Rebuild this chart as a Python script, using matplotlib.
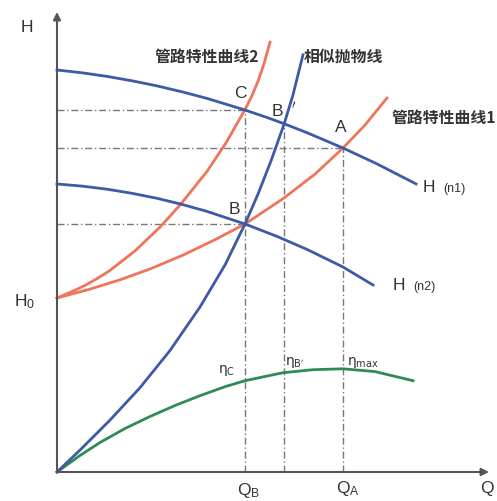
import matplotlib.pyplot as plt

plt.rcParams['font.family'] = ['Liberation Sans', 'Noto Sans CJK SC', 'DejaVu Sans']
plt.rcParams['mathtext.fontset'] = 'dejavusans'

# 泵特性曲线 H(n1)
q_n1 = [0, 2.5, 5.0, 7.5, 10.0, 12.5, 15.0, 18.8, 21.0, 22.7, 25.0, 28.6, 32.0, 35.9]
h_n1 = [40.2, 39.92, 39.56, 39.12, 38.61, 38.02, 37.36, 36.2, 35.45, 34.83, 33.93, 32.4, 30.81, 28.81]

# 泵特性曲线 H(n2)
q_n2 = [0, 2.5, 5.0, 7.5, 10.0, 12.5, 15.0, 18.8, 22.0, 25.0, 28.6, 31.6]
h_n2 = [28.8, 28.59, 28.28, 27.87, 27.37, 26.76, 26.06, 24.8, 23.56, 22.26, 20.5, 18.7]

# 管路特性曲线1
q_p1 = [0, 3.3, 6.3, 9.3, 12.6, 15.8, 18.8, 22.6, 25.8, 28.6, 30.8, 33.0]
h_p1 = [17.4, 18.29, 19.22, 20.3, 21.69, 23.23, 24.8, 27.33, 29.79, 32.4, 34.7, 37.4]

# 管路特性曲线2
q_p2 = [0, 1.5, 2.8, 4.0, 5.3, 7.8, 10.3, 12.3, 15.0, 16.9, 18.8, 19.5, 20.1, 20.7, 21.3]
h_p2 = [17.4, 18.04, 18.66, 19.33, 20.16, 22.11, 24.49, 26.69, 30.06, 32.91, 36.24, 37.64, 39.08, 40.82, 42.98]

# 相似抛物线
q_par = [0, 2.3, 5.3, 8.3, 11.3, 14.3, 16.8, 18.8, 20.1, 21.4, 22.7, 23.6, 24.6]
h_par = [0, 2.19, 5.19, 8.43, 12.15, 16.5, 20.7, 24.8, 27.79, 31.11, 34.75, 37.72, 41.72]

# 效率曲线
q_eta = [0, 2.3, 4.3, 6.8, 9.3, 11.8, 14.3, 16.8, 18.8, 22.6, 25.6, 28.6, 31.8, 35.6]
h_eta = [0, 1.65, 2.95, 4.35, 5.55, 6.65, 7.63, 8.53, 9.13, 9.93, 10.23, 10.32, 10.04, 9.13]

# 工况点
pt_C = (18.8, 36.2)
pt_B2 = (22.7, 34.8)   # B'
pt_A = (28.6, 32.4)
pt_B = (18.8, 24.8)

blue = '#3d5aa6'
orange = '#f07459'
green = '#2f8a55'
axis_c = '#555555'
txt_c = '#333333'

fig = plt.figure(figsize=(4.97, 5.01), dpi=100)
ax = fig.add_axes([0, 0, 1, 1])
ax.set_xlim(-5.7, 44.0)
ax.set_ylim(-2.9, 47.2)
ax.axis('off')

# 坐标轴
arr = dict(arrowstyle='-|>', color=axis_c, lw=1.5, mutation_scale=11, shrinkA=0, shrinkB=0)
ax.annotate('', xy=(0, 46.0), xytext=(0, 0), arrowprops=arr)
ax.annotate('', xy=(43.2, 0), xytext=(0, 0), arrowprops=arr)

# 点划线
dd = dict(color='#777777', lw=1.0, ls=(0, (5, 2, 1, 2)))
for q, h in [pt_C, pt_A, pt_B]:
    ax.plot([0, q], [h, h], **dd)
for q, h in [pt_C, pt_B2, pt_A]:
    ax.plot([q, q], [0, h], **dd)

lw = 2.0
ax.plot(q_eta, h_eta, color=green, lw=lw)
ax.plot(q_p1, h_p1, color=orange, lw=lw)
ax.plot(q_p2, h_p2, color=orange, lw=lw)
ax.plot(q_par, h_par, color=blue, lw=lw)
ax.plot(q_n1, h_n1, color=blue, lw=lw)
ax.plot(q_n2, h_n2, color=blue, lw=lw)

fs = 12.5
ax.text(-3.0, 44.5, 'H', fontsize=fs, color=txt_c, ha='center', va='center')
ax.text(-3.2, 17.0, r'$\mathregular{H_0}$', fontsize=fs, color=txt_c, ha='center', va='center')
ax.text(19.2, -1.9, r'$\mathregular{Q_B}$', fontsize=fs, color=txt_c, ha='center', va='center')
ax.text(29.1, -1.7, r'$\mathregular{Q_A}$', fontsize=fs, color=txt_c, ha='center', va='center')
ax.text(43.0, -1.7, 'Q', fontsize=fs, color=txt_c, ha='center', va='center')

ax.text(18.3, 37.9, 'C', fontsize=fs, color=txt_c, ha='center', va='center')
ax.text(22.0, 36.0, 'B', fontsize=fs, color=txt_c, ha='center', va='center')
ax.text(23.7, 36.7, r'$\prime$', fontsize=9, color=txt_c, ha='center', va='center', zorder=5)
ax.text(28.4, 34.4, 'A', fontsize=fs, color=txt_c, ha='center', va='center')
ax.text(17.7, 26.2, 'B', fontsize=fs, color=txt_c, ha='center', va='center')

ax.text(37.2, 28.5, 'H', fontsize=fs, color=txt_c, ha='center', va='center')
ax.text(38.6, 28.3, '(n1)', fontsize=9, color=txt_c, ha='left', va='center')
ax.text(34.2, 18.7, 'H', fontsize=fs, color=txt_c, ha='center', va='center')
ax.text(35.6, 18.5, '(n2)', fontsize=9, color=txt_c, ha='left', va='center')

cjk = dict(fontsize=11.4, color=txt_c, fontweight='bold', va='center', ha='left',
           family=['Noto Sans CJK SC', 'DejaVu Sans'])
ax.text(9.8, 41.5, '管路特性曲线2', **cjk)
ax.text(24.7, 41.5, '相似抛物线', **cjk)
ax.text(33.5, 35.4, '管路特性曲线1', **cjk)

efs = 10
ax.text(16.1, 10.1, r'$\mathrm{\eta_{C}}$', fontsize=efs, color=txt_c, ha='left', va='center')
ax.text(22.8, 10.9, r"$\mathrm{\eta_{B'}}$", fontsize=efs, color=txt_c, ha='left', va='center')
ax.text(29.0, 10.9, r'$\mathrm{\eta_{max}}$', fontsize=efs, color=txt_c, ha='left', va='center')

fig.savefig('out.png', dpi=100)
